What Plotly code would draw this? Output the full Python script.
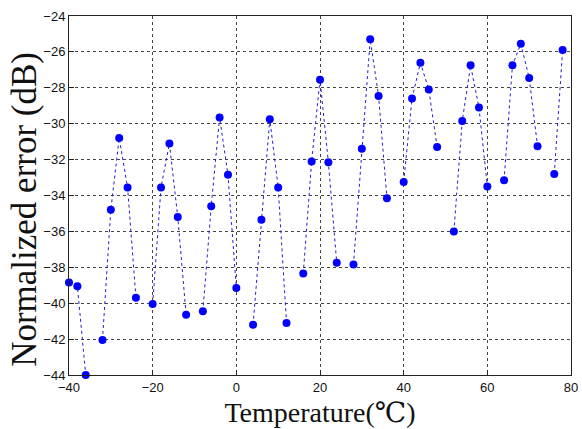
import plotly.graph_objects as go

temperature = list(range(-40, 80, 2))
error_db = [
    -38.85, -39.05, -44.0, None, -42.05, -34.8, -30.8, -33.55, -39.7, None,
    -40.05, -33.55, -31.1, -35.2, -40.65, None, -40.45, -34.6, -29.65, -32.85,
    -39.15, None, -41.2, -35.35, -29.75, -33.55, -41.1, None, -38.35, -32.1,
    -27.55, -32.15, -37.75, None, -37.85, -31.4, -25.3, -28.45, -34.15, None,
    -33.25, -28.6, -26.6, -28.1, -31.3, None, -36.0, -29.85, -26.75, -29.1,
    -33.5, None, -33.15, -26.75, -25.55, -27.45, -31.25, None, -32.8, -25.9,
]
x_ticks = [-40, -20, 0, 20, 40, 60, 80]
y_ticks = [-44, -42, -40, -38, -36, -34, -32, -30, -28, -26, -24]

fig = go.Figure()
fig.add_trace(go.Scatter(
    x=temperature, y=error_db, mode="lines+markers",
    connectgaps=False, cliponaxis=False,
    line=dict(color="#2020d0", width=1, dash="dot"),
    marker=dict(color="#0000ff", size=8, line=dict(width=0)),
    showlegend=False,
))

axis_common = dict(
    showline=True, linecolor="#222", linewidth=1, mirror=True,
    ticks="inside", ticklen=5, tickcolor="#222",
    showgrid=True, gridcolor="#444", griddash="dot", gridwidth=1,
    zeroline=False, automargin=False,
    tickfont=dict(family="Liberation Sans, Arial", size=13, color="#111"),
)

fig.update_layout(
    width=582, height=429,
    margin=dict(l=69, r=11, t=16, b=54),
    paper_bgcolor="white", plot_bgcolor="white",
    xaxis=dict(range=[-40, 80], tickvals=x_ticks,
               title=dict(text="Temperature(℃)", standoff=8,
                          font=dict(family="Liberation Serif, DejaVu Serif", size=28, color="#111")),
               **axis_common),
    yaxis=dict(range=[-44, -24], tickvals=y_ticks, **axis_common),
    annotations=[dict(
        text="Normalized error (dB)", textangle=-90,
        xref="paper", yref="paper", x=0, y=0.46,
        xanchor="center", yanchor="middle", xshift=-44, showarrow=False,
        font=dict(family="Liberation Serif, DejaVu Serif", size=35, color="#111"),
    )],
)

fig.write_html(
    "out.html",
    config={"displayModeBar": False},
    post_script="document.body.style.margin='0';document.body.style.overflow='hidden';",
)
